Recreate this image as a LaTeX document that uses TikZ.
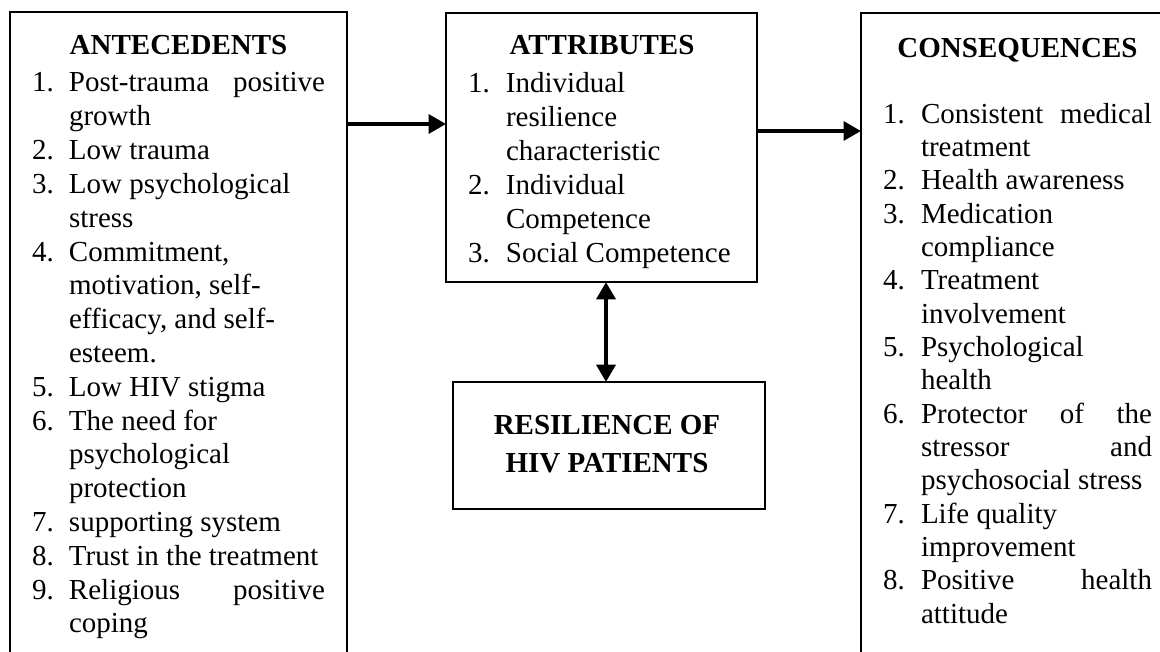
\documentclass[tikz,border=0pt]{standalone}
\usepackage{fontspec}
\setmainfont{Liberation Serif}
\usetikzlibrary{arrows.meta}

\newlength\numw
\newlength\txtw
\newcommand\Li[2]{\hbox to \hsize{\hbox to \numw{#1\hfil}#2\hfil}}
\newcommand\Lj[2]{\hbox to \hsize{\hbox to \numw{#1\hfil}\makebox[\txtw][s]{#2}\hfil}}
\newcommand\Lh[1]{\hbox to \hsize{\hfil\bfseries #1\hfil}}
\newcommand\Blk[5]{\vtop{\hsize=#1\relax\numw=#2\relax\txtw=#3\relax
  \fontsize{21.75}{#4}\selectfont\baselineskip=#4\relax\lineskiplimit=-100pt\relax
  \parindent=0pt #5}}

\tikzset{
  box/.style={draw, line width=1.5pt, inner sep=0pt, outer sep=0pt, anchor=north west},
  txt/.style={inner sep=0pt, outer sep=0pt, anchor=base west},
  arr/.style={line width=3pt, -{Triangle[length=13pt,width=14pt]}},
  darr/.style={line width=3.2pt, {Triangle[length=13pt,width=14pt]}-{Triangle[length=13pt,width=14pt]}}
}

\begin{document}
\begin{tikzpicture}[x=0.75pt,y=-0.75pt]
\useasboundingbox (0,0) rectangle (1160,651);
\fill[white] (0,0) rectangle (1160,651);
\clip (0,0) rectangle (1160,651);

% boxes
\node[box, minimum width=252.75pt, minimum height=501pt] (ante) at (10,12) {};
\node[box, minimum width=233.25pt, minimum height=201.75pt] (attr) at (446,13) {};
\node[box, minimum width=235.5pt, minimum height=501pt] (cons) at (861,13) {};
\node[box, minimum width=234pt, minimum height=95.25pt] (res) at (453,382) {};

% antecedents text
\node[txt] (antetext) at (32,54) {\Blk{219.75pt}{27.75pt}{192pt}{25.36pt}{%
  \Lh{ANTECEDENTS}\vskip3.1pt
  \Lj{1.}{Post-trauma positive}
  \Li{}{growth}
  \Li{2.}{Low trauma}
  \Li{3.}{Low psychological}
  \Li{}{stress}
  \Li{4.}{Commitment,}
  \Li{}{motivation, self-}
  \Li{}{efficacy, and self-}
  \Li{}{esteem.}
  \Li{5.}{Low HIV stigma}
  \Li{6.}{The need for}
  \Li{}{psychological}
  \Li{}{protection}
  \Li{7.}{supporting system}
  \Li{8.}{Trust in the treatment}
  \Lj{9.}{Religious positive}
  \Li{}{coping}}};

% attributes text
\node[txt] (attrtext) at (468,54) {\Blk{201pt}{28.5pt}{172pt}{25.5pt}{%
  \Lh{ATTRIBUTES}\vskip3pt
  \Li{1.}{Individual}
  \Li{}{resilience}
  \Li{}{characteristic}
  \Li{2.}{Individual}
  \Li{}{Competence}
  \Li{3.}{Social Competence}}};

% consequences text
\node[txt] (constext) at (883,57) {\Blk{201.75pt}{28.5pt}{173.25pt}{25pt}{%
  \Lh{CONSEQUENCES}\vskip24.5pt
  \Lj{1.}{Consistent medical}
  \Li{}{treatment}
  \Li{2.}{Health awareness}
  \Li{3.}{Medication}
  \Li{}{compliance}
  \Li{4.}{Treatment}
  \Li{}{involvement}
  \Li{5.}{Psychological}
  \Li{}{health}
  \Lj{6.}{Protector of the}
  \Lj{}{stressor and}
  \Li{}{psychosocial stress}
  \Li{7.}{Life quality}
  \Li{}{improvement}
  \Lj{8.}{Positive health}
  \Li{}{attitude}}};

% resilience text
\node[inner sep=0pt, outer sep=0pt, anchor=base] (restext) at (607,434) {\Blk{234pt}{0pt}{0pt}{28.5pt}{%
  \Lh{RESILIENCE OF}
  \Lh{HIV PATIENTS}}};

% connectors
\coordinate (ya) at (0,124);
\coordinate (yb) at (0,131);
\coordinate (xc) at (606,0);
\draw[arr] (ante.east |- ya) -- (attr.west |- ya);
\draw[arr] (attr.east |- yb) -- (cons.west |- yb);
\draw[darr] (attr.south -| xc) -- (res.north -| xc);
\end{tikzpicture}
\end{document}
